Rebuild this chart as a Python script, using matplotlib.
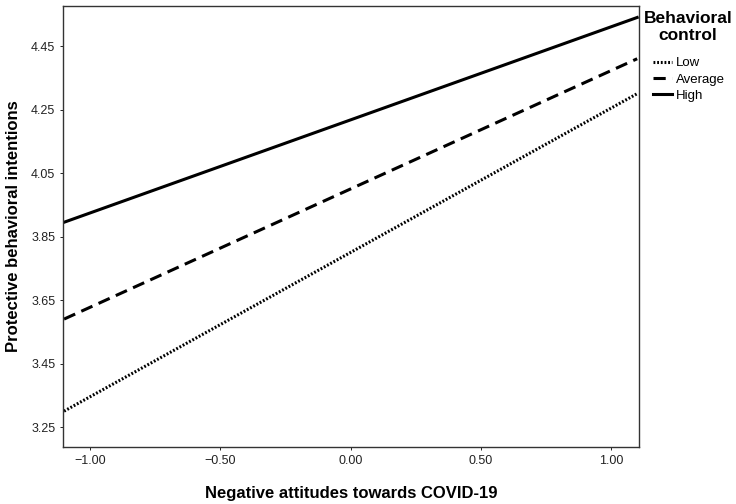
import matplotlib.pyplot as plt

plt.rcParams['font.family'] = ['Liberation Sans', 'DejaVu Sans']

# simple slopes: predicted values at the two ends of the x range
x_ends = [-1.10, 1.10]
low = [3.30, 4.30]
average = [3.59, 4.41]
high = [3.895, 4.54]

x_ticks = [-1.0, -0.5, 0.0, 0.5, 1.0]
y_ticks = [3.25, 3.45, 3.65, 3.85, 4.05, 4.25, 4.45]

fig = plt.figure(figsize=(7.36, 5.04), dpi=100)
ax = fig.add_axes([0.0856, 0.113, 0.7826, 0.875])

l1, = ax.plot(x_ends, low, color='black', lw=2.2, linestyle=(0, (0.6, 0.6)), label='Low')
l2, = ax.plot(x_ends, average, color='black', lw=2.2, linestyle=(0, (4, 2.2)), label='Average')
l3, = ax.plot(x_ends, high, color='black', lw=2.2, label='High')

ax.set_xlim(-1.104, 1.107)
ax.set_ylim(3.187, 4.576)
ax.set_xticks(x_ticks)
ax.set_xticklabels(['\u22121.00', '\u22120.50', '0.00', '0.50', '1.00'])
ax.set_yticks(y_ticks)
ax.set_yticklabels(['%.2f' % v for v in y_ticks])
ax.tick_params(labelsize=9, length=2, width=0.6, colors='black', labelcolor='#222222')
for s in ax.spines.values():
    s.set_linewidth(1.0)
    s.set_color('#333333')

ax.set_xlabel('Negative attitudes towards COVID-19', fontsize=12, fontweight='bold', labelpad=14)
ax.set_ylabel('Protective behavioral intentions', fontsize=12, fontweight='bold', labelpad=7)

# legend title drawn separately so it can be wider than the legend box
fig.text(688 / 736, 1 - 11 / 504, 'Behavioral\ncontrol', ha='center', va='top',
         fontsize=12.5, fontweight='bold', linespacing=1.2)
fig.legend(handles=[l1, l2, l3], loc='upper left', bbox_to_anchor=(0.875, 0.905),
           frameon=False, fontsize=9.5,
           handlelength=1.4, handletextpad=0.35, labelspacing=0.3, borderpad=0.2)

fig.savefig('out.png', dpi=100)
